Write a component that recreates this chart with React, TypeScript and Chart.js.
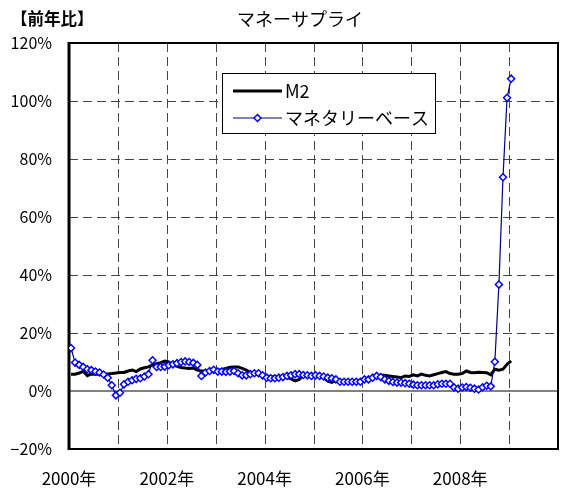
import React, { useEffect, useRef } from 'react';
import { Chart, registerables } from 'chart.js';

Chart.register(...registerables);

// ---- data -------------------------------------------------------------
const START_YEAR = 2000;
const AXIS_YEARS = 10; // 2000年 .. 2010年
const xLabelYears = [2000, 2002, 2004, 2006, 2008];
const yTicks = [-20, 0, 20, 40, 60, 80, 100, 120];

const titleText = 'マネーサプライ';
const unitText = '【前年比】';
const seriesNames = ['M2', 'マネタリーベース'];

// monthly YoY %, Jan 2000 .. Jan 2009
const m2 = [
  5.8, 5.8, 6.2, 6.8, 5.3, 5.9, 5.8, 5.8, 5.8, 5.9, 6.0, 6.2,
  6.4, 6.4, 6.9, 7.2, 6.7, 7.6, 8.0, 8.3, 9.0, 9.4, 9.8, 10.3,
  10.0, 9.0, 8.5, 8.1, 7.9, 7.8, 7.9, 7.2, 6.9, 6.9, 7.0, 7.2,
  7.2, 7.4, 7.8, 8.2, 8.3, 8.3, 7.8, 7.2, 6.4, 5.8, 5.8, 5.5,
  5.2, 5.0, 4.9, 4.8, 5.0, 4.6, 4.2, 3.5, 4.0, 5.4, 5.8, 5.8,
  5.6, 5.2, 4.6, 3.4, 3.0, 3.6, 3.7, 3.5, 3.3, 3.3, 3.5, 3.7,
  4.0, 4.3, 4.8, 5.2, 5.4, 5.4, 5.2, 5.0, 4.8, 4.6, 5.2, 5.0,
  5.6, 5.2, 5.8, 5.4, 5.2, 5.6, 6.0, 6.4, 6.7, 6.0, 5.8, 5.8,
  6.0, 6.9, 6.4, 6.3, 6.5, 6.4, 6.3, 5.6, 7.5, 7.2, 7.5, 9.2,
  10.4,
];

const monetaryBase = [
  14.8, 9.8, 9.0, 8.3, 7.5, 7.2, 6.7, 6.4, 5.7, 4.6, 2.0, -1.5,
  -0.6, 2.3, 3.2, 3.7, 4.2, 4.4, 5.0, 5.8, 10.6, 8.3, 8.3, 8.4,
  8.9, 9.2, 9.6, 10.0, 10.2, 10.0, 9.7, 9.0, 5.2, 6.4, 6.9, 7.3,
  6.7, 6.7, 6.6, 6.7, 6.9, 6.1, 5.4, 5.4, 5.8, 6.1, 6.1, 5.4,
  4.6, 4.4, 4.4, 4.6, 4.8, 5.2, 5.4, 5.8, 5.8, 5.5, 5.4, 5.2,
  5.4, 5.2, 5.0, 4.6, 4.4, 4.0, 3.2, 3.2, 3.2, 3.2, 3.2, 3.2,
  4.0, 4.0, 4.6, 5.2, 4.8, 4.0, 3.5, 3.1, 2.9, 2.9, 2.7, 2.5,
  2.2, 2.0, 2.0, 2.0, 2.0, 2.0, 2.3, 2.5, 2.5, 2.5, 1.2, 0.8,
  1.2, 1.4, 1.1, 0.8, 0.5, 1.3, 1.8, 1.6, 10.1, 36.7, 73.7, 101.1,
  107.7,
];

// ---- styling ----------------------------------------------------------
const FONT = '"Noto Sans CJK JP", "Noto Sans", sans-serif';
const BASE_COLOR = '#000080';
const MARKER_COLOR = '#0000ff';

// points sit mid-month on a month axis starting at Jan 2000
const toPoints = (arr: number[]) => arr.map((v, i) => ({ x: i + 0.5, y: v }));

const framePlugin = {
  id: 'frame',
  beforeDatasetsDraw(chart: any) {
    const { ctx, chartArea: a, scales } = chart;
    const x = scales.x;
    const y = scales.y;
    const line = (x1: number, y1: number, x2: number, y2: number) => {
      ctx.beginPath();
      ctx.moveTo(x1, y1);
      ctx.lineTo(x2, y2);
      ctx.stroke();
    };
    ctx.save();
    ctx.strokeStyle = '#444';
    ctx.lineWidth = 1;
    ctx.setLineDash([9, 5]);
    yTicks.forEach((v, idx) => {
      if (v === 0 || idx === 0 || idx === yTicks.length - 1) return;
      const py = Math.round(y.getPixelForValue(v)) + 0.5;
      line(a.left, py, a.right, py);
    });
    for (let yr = 1; yr < AXIS_YEARS; yr++) {
      const px = Math.round(x.getPixelForValue(yr * 12)) + 0.5;
      line(px, a.top, px, a.bottom);
    }
    ctx.setLineDash([]);
    ctx.strokeStyle = '#808080';
    ctx.lineWidth = 2;
    const zy = Math.round(y.getPixelForValue(0));
    line(a.left, zy, a.right, zy);
    ctx.strokeStyle = '#000';
    ctx.lineWidth = 2;
    ctx.strokeRect(a.left, a.top, a.right - a.left, a.bottom - a.top);
    ctx.lineWidth = 3;
    line(a.left, a.top - 1, a.left, a.bottom + 1);
    ctx.restore();
  },
  afterDraw(chart: any) {
    const { ctx } = chart;
    ctx.save();
    ctx.fillStyle = '#000';
    ctx.textBaseline = 'middle';
    // unit label
    ctx.font = `bold 16.5px ${FONT}`;
    ctx.textAlign = 'left';
    ctx.fillText(unitText, 11, 19);
    // title
    ctx.font = `18px ${FONT}`;
    ctx.textAlign = 'center';
    ctx.fillText(titleText, 300, 19);
    // legend
    const lx = 222.5, ly = 73.5, lw = 213, lh = 60;
    ctx.fillStyle = '#fff';
    ctx.fillRect(lx, ly, lw, lh);
    ctx.strokeStyle = '#000';
    ctx.lineWidth = 1;
    ctx.strokeRect(lx, ly, lw, lh);
    const r1 = 91, r2 = 118;
    ctx.strokeStyle = '#000';
    ctx.lineWidth = 3;
    ctx.beginPath();
    ctx.moveTo(233, r1);
    ctx.lineTo(282, r1);
    ctx.stroke();
    ctx.strokeStyle = BASE_COLOR;
    ctx.lineWidth = 1.2;
    ctx.beginPath();
    ctx.moveTo(233, r2);
    ctx.lineTo(282, r2);
    ctx.stroke();
    // diamond marker
    ctx.fillStyle = '#fff';
    ctx.strokeStyle = MARKER_COLOR;
    ctx.lineWidth = 1.5;
    const mx = 257.5, mr = 3.5;
    ctx.beginPath();
    ctx.moveTo(mx, r2 - mr);
    ctx.lineTo(mx + mr, r2);
    ctx.lineTo(mx, r2 + mr);
    ctx.lineTo(mx - mr, r2);
    ctx.closePath();
    ctx.fill();
    ctx.stroke();
    ctx.fillStyle = '#000';
    ctx.textAlign = 'left';
    ctx.font = `18px ${FONT}`;
    ctx.fillText(seriesNames[0], 285, r1);
    ctx.fillText(seriesNames[1], 285, r2);
    ctx.restore();
  },
};

export default function App() {
  const canvasRef = useRef<HTMLCanvasElement | null>(null);

  useEffect(() => {
    const canvas = canvasRef.current;
    if (!canvas) return;
    const chart = new Chart(canvas, {
      type: 'line',
      data: {
        datasets: [
          {
            label: seriesNames[1],
            data: toPoints(monetaryBase),
            borderColor: BASE_COLOR,
            borderWidth: 1.2,
            pointStyle: 'rectRot',
            pointRadius: 3.5,
            pointBorderColor: MARKER_COLOR,
            pointBackgroundColor: '#ffffff',
            pointBorderWidth: 1.5,
            tension: 0,
            order: 0,
          },
          {
            label: seriesNames[0],
            data: toPoints(m2),
            borderColor: '#000000',
            borderWidth: 3,
            pointRadius: 0,
            tension: 0,
            order: 1,
          },
        ],
      },
      options: {
        animation: false,
        responsive: false,
        maintainAspectRatio: false,
        layout: { autoPadding: false, padding: { top: 43, right: 3, left: 0, bottom: 0 } },
        plugins: {
          legend: { display: false },
          title: { display: false },
          tooltip: { enabled: false },
        },
        scales: {
          x: {
            type: 'linear',
            min: 0,
            max: AXIS_YEARS * 12,
            grid: { display: false, drawTicks: false },
            border: { display: false },
            ticks: {
              stepSize: 12,
              autoSkip: false,
              maxRotation: 0,
              padding: 19,
              color: '#000',
              font: { family: FONT, size: 17 },
              callback: (v: any) => {
                const yr = START_YEAR + Number(v) / 12;
                return Number(v) % 12 === 0 && xLabelYears.includes(yr) ? `${yr}年` : '';
              },
            },
            afterFit: (s: any) => {
              s.height = 39;
              s.paddingLeft = 0;
              s.paddingRight = 0;
            },
          },
          y: {
            type: 'linear',
            min: yTicks[0],
            max: yTicks[yTicks.length - 1],
            grid: { display: false, drawTicks: false },
            border: { display: false },
            ticks: {
              stepSize: 20,
              padding: 17,
              color: '#000',
              font: { family: FONT, size: 16 },
              callback: (v: any) => (Number(v) < 0 ? '−' : '') + Math.abs(Number(v)) + '%',
            },
            afterFit: (s: any) => {
              s.width = 69;
              s.paddingTop = 0;
              s.paddingBottom = 0;
            },
          },
        },
      },
      plugins: [framePlugin],
    });
    return () => chart.destroy();
  }, []);

  return (
    <div style={{ position: 'absolute', left: 0, top: 0, width: 561, height: 488, background: '#fff' }}>
      <canvas ref={canvasRef} width={561} height={488} />
    </div>
  );
}
